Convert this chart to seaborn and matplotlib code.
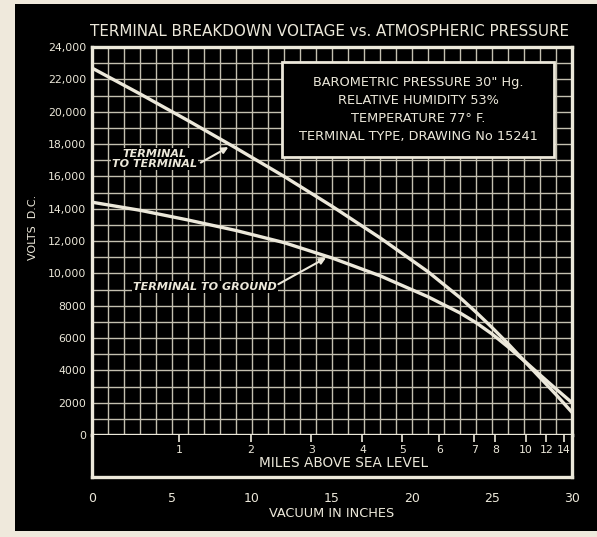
import matplotlib
matplotlib.use("Agg")
import matplotlib.pyplot as plt
from matplotlib.patches import Rectangle
import seaborn as sns
import pandas as pd

# ---- data ----
vacuum = [0, 3, 6, 9, 12, 15, 18, 21, 23, 24, 25, 26, 27, 28, 29, 30]
term_to_term = [22700, 21100, 19450, 17750, 16000, 14150, 12200, 10100, 8500, 7600,
                6650, 5650, 4600, 3550, 2500, 1400]
term_to_ground = [14400, 13900, 13300, 12650, 11900, 10950, 9850, 8550, 7550, 6950,
                  6250, 5450, 4600, 3720, 2850, 2000]
y_ticks = [0, 2000, 4000, 6000, 8000, 10000, 12000, 14000, 16000, 18000, 20000, 22000, 24000]
y_tick_labels = ["0", "2000", "4000", "6000", "8000", "10,000", "12,000", "14,000",
                 "16,000", "18,000", "20,000", "22,000", "24,000"]
vac_ticks = [0, 5, 10, 15, 20, 25, 30]
miles_labels = ["1", "2", "3", "4", "5", "6", "7", "8", "10", "12", "14"]
miles_vac_pos = [5.45, 9.92, 13.7, 16.9, 19.4, 21.7, 23.9, 25.2, 27.1, 28.4, 29.5]
info_lines = ["BAROMETRIC PRESSURE 30\" Hg.", "RELATIVE HUMIDITY 53%",
              "TEMPERATURE 77° F.", "TERMINAL TYPE, DRAWING No 15241"]

df = pd.DataFrame({
    "vacuum": vacuum * 2,
    "volts": term_to_term + term_to_ground,
    "series": ["TERMINAL TO TERMINAL"] * len(vacuum) + ["TERMINAL TO GROUND"] * len(vacuum),
})

sns.set_theme(style="dark")
plt.rcParams["font.family"] = ["DejaVu Sans"]

INK = "#ece8da"
GRID = "#c4c0b0"
PAPER = "#efe9dc"

fig = plt.figure(figsize=(5.97, 5.37), dpi=100)
fig.patch.set_facecolor(PAPER)
fig.patches.append(Rectangle((15 / 597, 1 - 531 / 537), 1, 531 / 537 - 0.008,
                             transform=fig.transFigure, facecolor="black",
                             edgecolor="none", zorder=-10))

ax = fig.add_axes([92 / 597, 102 / 537, 480 / 597, 388 / 537])
ax.set_facecolor("black")

sns.lineplot(data=df, x="vacuum", y="volts", hue="series",
             palette={"TERMINAL TO TERMINAL": INK, "TERMINAL TO GROUND": INK},
             linewidth=2.4, legend=False, ax=ax, zorder=5)

ax.set_xlim(0, 30)
ax.set_ylim(0, 24000)
ax.set_xticks(range(0, 31))
ax.tick_params(axis="x", length=0, labelbottom=False)
ax.tick_params(axis="y", which="both", length=0, pad=4)
ax.set_yticks(y_ticks, y_tick_labels, fontsize=7.8, color=INK)
ax.set_yticks(range(0, 24001, 1000), minor=True)
ax.grid(True, which="both", color=GRID, linewidth=1.0)
ax.set_xlabel("")
ax.set_ylabel("")
for s in ax.spines.values():
    s.set_visible(True)
    s.set_color(INK)
    s.set_linewidth(2.4)

# info box
ax.add_patch(Rectangle((11.9, 17200), 17.0, 5870, facecolor="black",
                       edgecolor=INK, linewidth=2, zorder=6))
for i, t in enumerate(info_lines):
    ax.text(20.4, 21800 - i * 1120, t, ha="center", va="center",
            color=INK, fontsize=9.3, zorder=7)

# curve labels
lab_kw = dict(ha="center", va="center", color=INK, fontsize=8,
              fontweight="bold", fontstyle="italic", zorder=7,
              bbox=dict(facecolor="black", edgecolor="none", pad=1.0))
arr_kw = dict(arrowstyle="-|>", color=INK, lw=1.5, shrinkA=0, shrinkB=1,
              mutation_scale=9)
ax.text(3.9, 17070, "TERMINAL\nTO TERMINAL", linespacing=0.95, **lab_kw)
ax.annotate("", xy=(8.6, 17850), xytext=(6.8, 16850), arrowprops=arr_kw, zorder=7)
ax.text(7.06, 9150, "TERMINAL TO GROUND", **lab_kw)
ax.annotate("", xy=(14.7, 11000), xytext=(11.65, 9330), arrowprops=arr_kw, zorder=7)

# band with miles scale and vacuum axis
bx = fig.add_axes([92 / 597, 60 / 537, 480 / 597, 42 / 537])
bx.set_facecolor("black")
bx.set_xlim(0, 30)
bx.set_ylim(0, 1)
bx.grid(False)
bx.set_yticks([])
for name, s in bx.spines.items():
    s.set_color(INK)
    s.set_linewidth(2.4)
    s.set_visible(name != "top")
bx.vlines(miles_vac_pos, 0.83, 1.0, color=INK, linewidth=1.2)
for p, lab in zip(miles_vac_pos, miles_labels):
    bx.text(p, 0.64, lab, ha="center", va="center", color=INK, fontsize=7.8)
bx.text(15.7, 0.33, "MILES ABOVE SEA LEVEL", ha="center", va="center",
        color=INK, fontsize=9.8)
bx.set_xticks(vac_ticks, [str(v) for v in vac_ticks])
bx.tick_params(axis="x", direction="out", length=10, width=1.4, color=INK,
               labelcolor=INK, labelsize=9, pad=1.0)
bx.set_xlabel("VACUUM IN INCHES", color=INK, fontsize=9.3, labelpad=1)

fig.text(33 / 597, 1 - 227 / 537, "VOLTS  D.C.", rotation=90, ha="center",
         va="center", color=INK, fontsize=8)
fig.text(329 / 597, 1 - 32 / 537, "TERMINAL BREAKDOWN VOLTAGE vs. ATMOSPHERIC PRESSURE",
         ha="center", va="center", color=INK, fontsize=10.9)

fig.savefig("out.png", dpi=100, facecolor=fig.get_facecolor())
